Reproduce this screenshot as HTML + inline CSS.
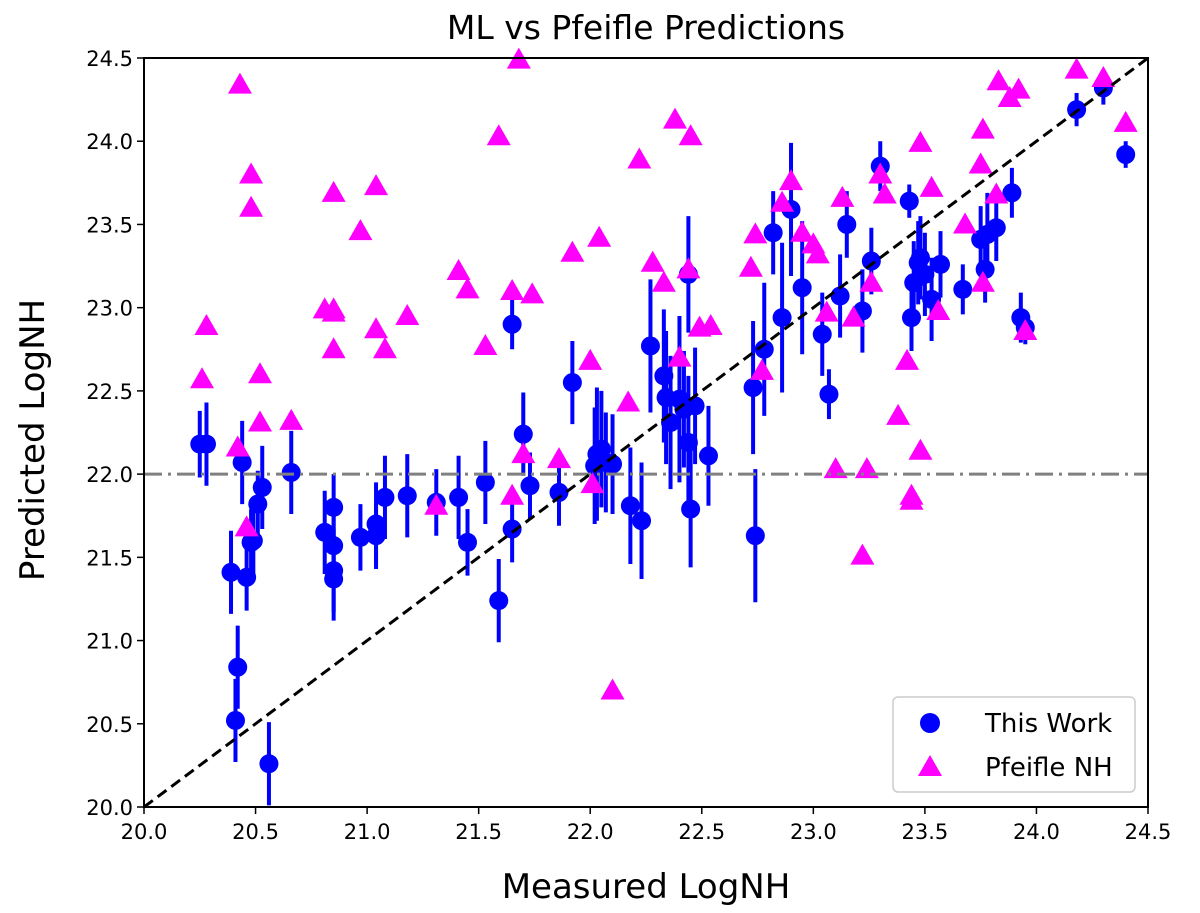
<!DOCTYPE html>
<html><head><meta charset="utf-8"><style>
html,body{margin:0;padding:0;background:#fff}
svg{display:block;font-family:"DejaVu Sans","Liberation Sans",sans-serif}
</style></head><body>
<svg id="chart" width="1200" height="913" viewBox="0 0 1200 913">
<text x="646" y="39" font-size="33" text-anchor="middle">ML vs Pfeifle Predictions</text>
<g id="marks"></g>
<rect x="144" y="58" width="1004" height="749" fill="none" stroke="#000" stroke-width="2"/>
<g id="ticks"></g>
<text x="646" y="898" font-size="34" text-anchor="middle">Measured LogNH</text>
<text transform="translate(44,440) rotate(-90)" font-size="34" text-anchor="middle">Predicted LogNH</text>
<g>
<rect x="893" y="697" width="242" height="95" rx="5" fill="#fff" stroke="#ccc" stroke-width="1.5"/>
<circle cx="930" cy="723" r="10" fill="#0000ff"/>
<text x="985" y="732" font-size="26">This Work</text>
<polygon points="930,755 942,776 918,776" fill="#ff00ff"/>
<text x="985" y="776" font-size="26">Pfeifle NH</text>
</g>
</svg>
<script>
const xTicks=[20.0,20.5,21.0,21.5,22.0,22.5,23.0,23.5,24.0,24.5];
const yTicks=[20.0,20.5,21.0,21.5,22.0,22.5,23.0,23.5,24.0,24.5];
const blueX=[20.25,20.28,20.44,20.39,20.42,20.41,20.56,20.46,20.48,20.49,20.51,20.53,20.66,20.81,20.85,20.85,20.85,20.85,20.97,21.04,21.04,21.08,21.18,21.31,21.41,21.45,21.53,21.59,21.65,21.65,21.70,21.73,21.86,21.92,22.02,22.03,22.05,22.07,22.10,22.18,22.23,22.27,22.33,22.34,22.36,22.40,22.42,22.44,22.45,22.47,22.44,22.53,22.73,22.74,22.78,22.82,22.86,22.90,22.95,23.04,23.07,23.12,23.15,23.22,23.26,23.30,23.43,23.44,23.45,23.47,23.48,23.50,23.53,23.57,23.67,23.75,23.77,23.78,23.82,23.89,23.93,23.95,24.18,24.30,24.40];
const blueY=[22.18,22.18,22.07,21.41,20.84,20.52,20.26,21.38,21.59,21.60,21.82,21.92,22.01,21.65,21.57,21.80,21.42,21.37,21.62,21.70,21.63,21.86,21.87,21.83,21.86,21.59,21.95,21.24,21.67,22.90,22.24,21.93,21.89,22.55,22.05,22.12,22.15,22.07,22.06,21.81,21.72,22.77,22.59,22.46,22.31,22.45,22.39,22.19,21.79,22.41,23.20,22.11,22.52,21.63,22.75,23.45,22.94,23.59,23.12,22.84,22.48,23.07,23.50,22.98,23.28,23.85,23.64,22.94,23.15,23.27,23.30,23.20,23.05,23.26,23.11,23.41,23.23,23.44,23.48,23.69,22.94,22.88,24.19,24.32,23.92];
const blueErr=[0.2,0.25,0.25,0.25,0.25,0.25,0.25,0.2,0.2,0.2,0.2,0.25,0.25,0.25,0.2,0.2,0.25,0.25,0.2,0.25,0.2,0.25,0.25,0.2,0.25,0.2,0.25,0.25,0.2,0.15,0.25,0.2,0.2,0.25,0.35,0.4,0.35,0.3,0.3,0.35,0.35,0.4,0.4,0.4,0.4,0.5,0.35,0.4,0.35,0.35,0.35,0.3,0.4,0.4,0.4,0.25,0.45,0.4,0.4,0.25,0.15,0.25,0.2,0.25,0.2,0.15,0.1,0.2,0.25,0.25,0.25,0.25,0.25,0.2,0.15,0.2,0.2,0.25,0.2,0.15,0.15,0.1,0.1,0.1,0.08];
const pinkX=[20.26,20.28,20.43,20.42,20.46,20.48,20.48,20.52,20.52,20.66,20.81,20.85,20.85,20.85,20.85,20.97,21.04,21.04,21.08,21.18,21.31,21.41,21.45,21.53,21.59,21.65,21.65,21.68,21.70,21.74,21.86,21.92,22.00,22.01,22.04,22.17,22.22,22.28,22.33,22.38,22.40,22.45,22.44,22.49,22.54,22.72,22.74,22.77,22.86,22.90,22.95,23.00,23.02,23.06,23.10,23.13,23.18,23.22,23.24,23.26,23.30,23.32,23.38,23.42,23.44,23.44,23.48,23.48,23.53,23.56,23.68,23.75,23.76,23.76,23.82,23.83,23.88,23.92,23.95,24.18,24.30,24.40,22.10];
const pinkY=[22.57,22.89,24.34,22.16,21.68,23.80,23.60,22.60,22.31,22.32,22.99,23.69,22.99,22.97,22.75,23.46,23.73,22.87,22.75,22.95,21.81,23.22,23.11,22.77,24.03,21.87,23.10,24.49,22.12,23.08,22.09,23.33,22.68,21.94,23.42,22.43,23.89,23.27,23.15,24.13,22.70,24.03,23.23,22.88,22.89,23.24,23.44,22.62,23.63,23.76,23.45,23.38,23.32,22.97,22.03,23.66,22.94,21.51,22.03,23.15,23.80,23.68,22.35,22.68,21.87,21.84,23.99,22.14,23.72,22.98,23.50,23.86,24.07,23.15,23.68,24.36,24.26,24.31,22.86,24.43,24.38,24.11,20.70];
const refLineY=22.0;

const NS='http://www.w3.org/2000/svg';
const L=144,R=1148,T=58,B=807;
function sx(v){return L+(v-20)/4.5*(R-L);}
function sy(v){return B-(v-20)/4.5*(B-T);}
function mk(tag,attrs,parent){const e=document.createElementNS(NS,tag);for(const k in attrs)e.setAttribute(k,attrs[k]);parent.appendChild(e);return e;}
const ticks=document.getElementById('ticks'),marks=document.getElementById('marks');
xTicks.forEach(v=>{
  const l=mk('line',{x1:sx(v),x2:sx(v),y1:B,y2:B+7,stroke:'#000','stroke-width':1.5},ticks);
  
  
  const t=mk('text',{x:sx(v),y:B+32,'font-size':21,'text-anchor':'middle'},ticks);
  t.textContent=v.toFixed(1);
  
  
});
yTicks.forEach(v=>{
  const l=mk('line',{x1:L-7,x2:L,y1:sy(v),y2:sy(v),stroke:'#000','stroke-width':1.5},ticks);
  
  
  const t=mk('text',{x:L-11,y:sy(v)+8,'font-size':21,'text-anchor':'end'},ticks);
  t.textContent=v.toFixed(1);
  
  
});
blueX.forEach((x,i)=>{
  const e=mk('line',{x1:sx(x),x2:sx(x),y1:sy(blueY[i]-blueErr[i]),y2:sy(blueY[i]+blueErr[i]),stroke:'#0000ff','stroke-width':4},marks);
  
  
  const c=mk('circle',{cx:sx(x),cy:sy(blueY[i]),r:9.5,fill:'#0000ff'},marks);
  
  
});
pinkX.forEach((x,i)=>{
  const cx=sx(x),cy=sy(pinkY[i]);
  const p=mk('polygon',{points:`${cx},${cy-12} ${cx+12},${cy+9} ${cx-12},${cy+9}`,fill:'#ff00ff'},marks);
  
  
});
const h=mk('line',{x1:L,x2:R,y1:sy(refLineY),y2:sy(refLineY),stroke:'#808080','stroke-width':3,'stroke-dasharray':'18 6 3 6'},marks);


const d=mk('line',{x1:sx(20),y1:sy(20),x2:sx(24.5),y2:sy(24.5),stroke:'#000','stroke-width':3,'stroke-dasharray':'11 6'},marks);


</script>
</body></html>
